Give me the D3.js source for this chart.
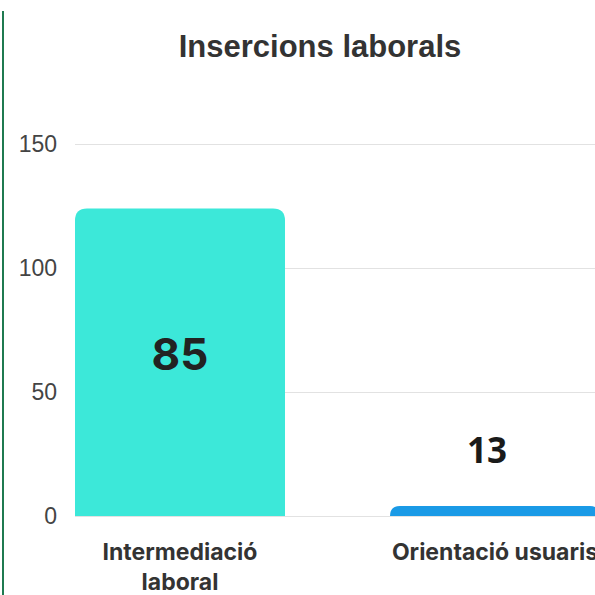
<!DOCTYPE html>
<html>
<head>
<meta charset="utf-8">
<script src="https://cdn.jsdelivr.net/npm/d3@7"></script>
<style>
  html, body { margin: 0; padding: 0; background: #fff; overflow: hidden; }
  svg { display: block; }
</style>
</head>
<body>
<div id="chart"></div>
<script>
// chart values
var categories = ["Intermediació laboral", "Orientació usuaris"];
var barValues = [124, 4];
var barLabels = ["85", "13"];
var barColors = ["#3ce8d9", "#1a9ae6"];
var yTicks = [0, 50, 100, 150];

var width = 595, height = 595;

var svg = d3.select("#chart").append("svg")
    .attr("width", width)
    .attr("height", height);

// green frame line on the left
svg.append("line")
    .attr("x1", 3).attr("x2", 3)
    .attr("y1", 11).attr("y2", height)
    .attr("stroke", "#1f7a50")
    .attr("stroke-width", 2);

var y = d3.scaleLinear().domain([0, 150]).range([516, 144]);

var x = d3.scaleBand()
    .domain(categories)
    .range([75, 600])
    .paddingInner(1 / 3)
    .paddingOuter(0);

// title
svg.append("text")
    .attr("x", 320).attr("y", 57)
    .attr("text-anchor", "middle")
    .style("font-family", "'Liberation Sans', Arial, sans-serif")
    .style("font-weight", "bold")
    .style("font-size", "31px")
    .style("fill", "#333")
    .text("Insercions laborals");

// grid + y labels
var yAxis = d3.axisLeft(y).tickValues(yTicks).tickSize(-(width - 75)).tickPadding(18);
var gy = svg.append("g").attr("transform", "translate(75,0)").call(yAxis);
gy.select(".domain").remove();
gy.selectAll(".tick line").attr("stroke", "#e2e2e2").attr("stroke-width", 1.2);
gy.selectAll(".tick text")
    .style("font-family", "'Liberation Sans', Arial, sans-serif")
    .style("font-size", "23px")
    .style("fill", "#444");

// bars with rounded tops
function barPath(x0, w, yTop, yBase, r) {
    r = Math.min(r, yBase - yTop, w / 2);
    return "M" + x0 + "," + yBase +
        "V" + (yTop + r) +
        "Q" + x0 + "," + yTop + " " + (x0 + r) + "," + yTop +
        "H" + (x0 + w - r) +
        "Q" + (x0 + w) + "," + yTop + " " + (x0 + w) + "," + (yTop + r) +
        "V" + yBase + "Z";
}

svg.selectAll(".bar")
    .data(categories)
    .enter().append("path")
    .attr("class", "bar")
    .attr("fill", function(d, i) { return barColors[i]; })
    .attr("d", function(d, i) {
        return barPath(x(d), x.bandwidth(), y(barValues[i]), y(0), 12);
    });

// value labels
svg.append("text")
    .attr("x", x(categories[0]) + x.bandwidth() / 2)
    .attr("y", 370)
    .attr("text-anchor", "middle")
    .style("font-family", "Inter, Roboto, sans-serif")
    .style("font-weight", "bold")
    .style("font-size", "44px")
    .style("fill", "#222")
    .text(barLabels[0]);

svg.append("text")
    .attr("x", x(categories[1]) + x.bandwidth() / 2 - 8)
    .attr("y", 463)
    .attr("text-anchor", "middle")
    .style("font-family", "'Noto Sans', 'Open Sans', sans-serif")
    .style("font-weight", "bold")
    .style("font-size", "35px")
    .style("fill", "#1a1a1a")
    .text(barLabels[1]);

// category labels
var catLines = [["Intermediació", "laboral"], ["Orientació usuaris"]];
var gx = svg.selectAll(".cat")
    .data(categories)
    .enter().append("text")
    .attr("class", "cat")
    .attr("text-anchor", "middle")
    .style("font-family", "Inter, Roboto, sans-serif")
    .style("font-weight", "bold")
    .style("font-size", "23px")
    .style("fill", "#333");

gx.each(function(d, i) {
    var t = d3.select(this);
    catLines[i].forEach(function(line, j) {
        t.append("tspan")
            .attr("x", x(d) + x.bandwidth() / 2)
            .attr("y", 560 + j * 30)
            .text(line);
    });
});
</script>
</body>
</html>
